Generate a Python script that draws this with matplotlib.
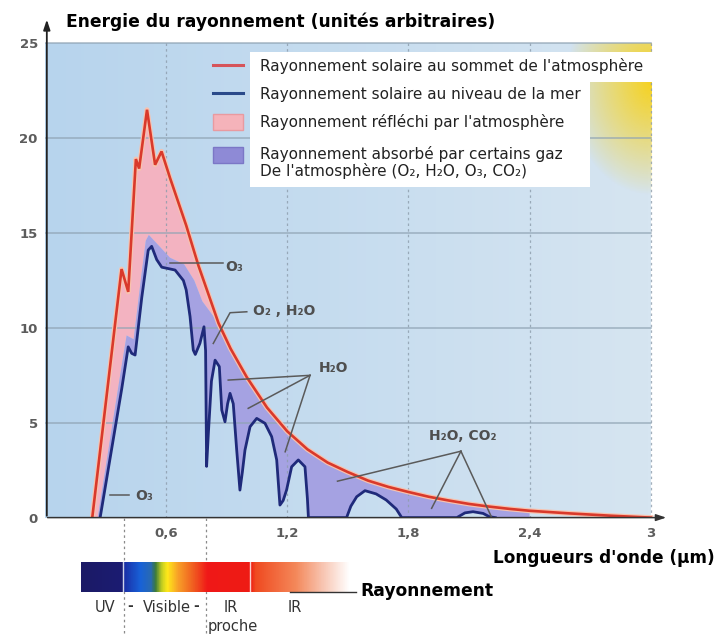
import numpy as np
import matplotlib.pyplot as plt
from matplotlib.colors import LinearSegmentedColormap, to_rgb
from matplotlib.patches import Rectangle

# solar radiation at top of atmosphere (red curve)
red_x = [0.235, 0.38, 0.413, 0.451, 0.467, 0.506, 0.546, 0.578, 0.62, 0.70, 0.76,
         0.86, 0.92, 1.0, 1.1, 1.2, 1.3, 1.4, 1.5, 1.6, 1.7, 1.8, 1.9, 2.0,
         2.1, 2.2, 2.3, 2.4, 2.6, 2.8, 3.0]
red_y = [0.0, 13.1, 11.9, 18.9, 18.4, 21.5, 18.6, 19.3, 17.9, 15.4, 13.3,
         10.25, 8.9, 7.4, 5.8, 4.55, 3.6, 2.9, 2.4, 1.95, 1.62, 1.35, 1.1, 0.9,
         0.72, 0.58, 0.46, 0.36, 0.22, 0.1, 0.0]

# solar radiation at sea level (blue curve)
sea_x = [0.274, 0.381, 0.413, 0.43, 0.447, 0.48, 0.512, 0.529, 0.554, 0.579, 0.645,
         0.686, 0.70, 0.719, 0.735, 0.745, 0.768, 0.788, 0.796, 0.801, 0.81, 0.825,
         0.843, 0.864, 0.876, 0.892, 0.905, 0.917, 0.933, 0.95, 0.966, 0.978, 0.991,
         1.016, 1.049, 1.09, 1.123, 1.148, 1.164, 1.18, 1.197, 1.222, 1.255, 1.288,
         1.30, 1.305, 1.494, 1.515, 1.544, 1.585, 1.64, 1.69, 1.74, 1.767, 2.04,
         2.08, 2.12, 2.17, 2.20, 2.23]
sea_y = [0.0, 6.8, 9.0, 8.66, 8.57, 11.6, 14.1, 14.3, 13.6, 13.2, 13.05,
         12.5, 12.0, 10.6, 8.83, 8.6, 9.19, 10.06, 8.8, 2.7, 4.5, 7.2,
         8.3, 7.96, 5.67, 5.05, 6.0, 6.55, 6.0, 3.56, 1.45, 2.4, 3.56,
         4.79, 5.23, 4.97, 4.27, 3.04, 0.66, 0.9, 1.46, 2.68, 3.04, 2.68,
         1.0, 0.0, 0.0, 0.6, 1.1, 1.42, 1.25, 0.93, 0.45, 0.0, 0.0,
         0.25, 0.31, 0.22, 0.05, 0.0]

# upper edge of the absorbed band, until it meets the red curve
abs_x = [0.262, 0.37, 0.405, 0.44, 0.475, 0.50, 0.515, 0.55, 0.62, 0.69, 0.74, 0.78, 0.86]
abs_y = [0.0, 7.3, 9.6, 9.4, 12.5, 14.6, 14.9, 14.5, 13.7, 13.35, 12.5, 11.4, 10.25]

yticks = [0, 5, 10, 15, 20, 25]
xticks = [0.6, 1.2, 1.8, 2.4, 3.0]
xtick_labels = ["0,6", "1,2", "1,8", "2,4", "3"]

legend_labels = ["Rayonnement solaire au sommet de l'atmosphère",
                 "Rayonnement solaire au niveau de la mer",
                 "Rayonnement réfléchi par l'atmosphère",
                 "Rayonnement absorbé par certains gaz\nDe l'atmosphère (O₂, H₂O, O₃, CO₂)"]

RED = '#d9392b'
BLUE = '#1f2a7a'
PINK = '#f3b3c1'
PURPLE = '#a5a2e2'
GRID = '#8fa3b3'

fig = plt.figure(figsize=(7.2, 6.35), dpi=100)
fig.patch.set_facecolor('white')
ax = fig.add_axes([44.8 / 720, 117.4 / 635, 3.1 * 202 / 720, 26.5 * 18.97 / 635])

# light blue background, lighter to the right
gx = np.linspace(0, 1, 200)
c_left = np.array(to_rgb('#b7d4ed'))
c_right = np.array(to_rgb('#d6e5f1'))
bg = c_left[None, None, :] * (1 - gx[None, :, None]) + c_right[None, None, :] * gx[None, :, None]
bg = np.repeat(bg, 40, axis=0)
ax.imshow(bg, extent=[0, 3, 0, 25], aspect='auto', origin='lower', zorder=0)

# yellow glow in the top right corner
mx, my = np.meshgrid(np.linspace(2.4, 3.0, 120), np.linspace(13, 25, 120))
d = np.sqrt(((3.0 - mx) / 0.42) ** 2 + ((23.0 - my) / 6.0) ** 2)
glow = np.zeros((120, 120, 4))
glow[..., :3] = to_rgb('#f6d21e')
glow[..., 3] = np.clip(1 - d, 0, 1) ** 0.9
ax.imshow(glow, extent=[2.4, 3.0, 13, 25], aspect='auto', origin='lower', zorder=0.5)

# grid
for v in yticks[1:]:
    ax.plot([0, 3], [v, v], color=GRID, lw=1.1, alpha=0.8, zorder=2.5)
for v in xticks:
    ax.plot([v, v], [0, 25], color='#8c9cab', lw=0.9, ls=(0, (2, 2.5)), alpha=0.8, zorder=2.5)

# reflected part (pink) between red curve and absorbed band
k = red_x.index(0.86) + 1
ax.fill(red_x[:k] + abs_x[::-1], red_y[:k] + abs_y[::-1], color=PINK, lw=0, zorder=2)

# absorbed part (purple) between upper edge and sea level curve
tail = [i for i, x in enumerate(red_x) if 0.86 < x <= 2.4]
up_x = abs_x + [red_x[i] for i in tail] + [2.4]
up_y = abs_y + [red_y[i] for i in tail] + [0.0]
ax.fill(up_x + sea_x[::-1], up_y + sea_y[::-1], color=PURPLE, lw=0, zorder=2)

ax.plot(red_x, red_y, color='#f8c2ae', lw=3.6, solid_joinstyle='round', zorder=3)
ax.plot(red_x, red_y, color=RED, lw=1.9, solid_joinstyle='miter', zorder=3.2)
ax.plot(sea_x, sea_y, color=BLUE, lw=2.0, solid_joinstyle='round', zorder=3.1)

# gas annotations
lk = dict(color='#5a5a5a', lw=1.1, zorder=6)
tk = dict(color='#4f4f4f', fontsize=10, fontweight='bold', va='center', zorder=6)
ax.plot([0.62, 0.88], [13.4, 13.4], **lk)
ax.text(0.895, 13.2, 'O₃', **tk)
ax.plot([0.834, 0.917, 1.0], [9.18, 10.8, 10.85], **lk)
ax.text(1.03, 10.9, 'O₂ , H₂O', **tk)
for px, py in [(0.908, 7.25), (1.007, 5.76), (1.19, 3.47)]:
    ax.plot([px, 1.313], [py, 7.5], **lk)
ax.text(1.355, 7.9, 'H₂O', **tk)
for px, py in [(1.449, 1.92), (1.915, 0.49), (2.21, 0.06)]:
    ax.plot([px, 2.06], [py, 3.5], **lk)
ax.text(1.90, 4.3, 'H₂O, CO₂', **tk)
ax.plot([0.324, 0.415], [1.19, 1.19], **lk)
ax.text(0.447, 1.15, 'O₃', **tk)

# legend box
ax.add_patch(Rectangle((1.016, 17.43), 2.70 - 1.016, 24.54 - 17.43, facecolor='white',
                       edgecolor='none', zorder=4))
ax.add_patch(Rectangle((2.70, 22.96), 0.32, 24.54 - 22.96, facecolor='white',
                       edgecolor='none', zorder=4, clip_on=False))
ax.plot([0.833, 0.981], [23.86, 23.86], color='#d6545a', lw=2.2, zorder=5)
ax.plot([0.833, 0.981], [22.38, 22.38], color='#2a4a8a', lw=2.2, zorder=5)
ax.add_patch(Rectangle((0.833, 20.45), 0.148, 0.8, facecolor='#f5b3ba', edgecolor='#e99aa0',
                       lw=1, zorder=5))
ax.add_patch(Rectangle((0.833, 18.71), 0.148, 0.8, facecolor='#8e8ad6', edgecolor='#7b77c6',
                       lw=1, zorder=5))
for yy, lab in zip([23.8, 22.3, 20.85, 18.72], legend_labels):
    ax.text(1.065, yy, lab, fontsize=11, color='#222222', va='center', zorder=5,
            linespacing=1.15)

# axes arrows
ax.annotate('', xy=(0.01, 26.4), xytext=(0.01, -0.05),
            arrowprops=dict(arrowstyle='-|>,head_length=0.6,head_width=0.2', color='#222222', lw=1.3),
            annotation_clip=False, zorder=7)
ax.annotate('', xy=(3.09, 0), xytext=(0.0, 0),
            arrowprops=dict(arrowstyle='-|>,head_length=0.6,head_width=0.2', color='#333333', lw=1.1),
            annotation_clip=False, zorder=7)

# dashed separators of the spectrum
for v in [0.39, 0.8]:
    ax.plot([v, v], [0, -6.3], color='#8a8a8a', lw=0.9, ls=(0, (2, 2.5)), clip_on=False, zorder=7)

ax.set_xlim(0, 3.1)
ax.set_ylim(0, 26.5)
for s in ax.spines.values():
    s.set_visible(False)
ax.set_yticks(yticks)
ax.set_yticklabels([str(v) for v in yticks], fontweight='bold')
ax.set_xticks(xticks)
ax.set_xticklabels(xtick_labels, fontweight='bold')
ax.tick_params(length=0, labelsize=9.5, labelcolor='#5c5c5c')
ax.tick_params(axis='y', pad=5)
ax.tick_params(axis='x', pad=7)

fig.text(66 / 720, 1 - 21.7 / 635, 'Energie du rayonnement (unités arbitraires)',
         fontsize=12.3, fontweight='bold', va='center')
fig.text(493 / 720, 1 - 558 / 635, "Longueurs d'onde (µm)", fontsize=12.2,
         fontweight='bold', va='center')
fig.text(360 / 720, 1 - 591 / 635, 'Rayonnement', fontsize=12.3, fontweight='bold', va='center')

# spectrum bar
bax = fig.add_axes([81 / 720, 1 - 592 / 635, 269 / 720, 30 / 635])
stops = [(0.0, '#1b1a66'), (0.15, '#1c1c72'), (0.16, '#1a30a8'), (0.22, '#1862d8'),
         (0.26, '#2a6ab0'), (0.275, '#3a7a3a'), (0.30, '#c8d020'), (0.32, '#ffe81a'),
         (0.36, '#f8a028'), (0.42, '#f05a20'), (0.47, '#f01818'), (0.63, '#ee1c14'),
         (0.65, '#f04a20'), (0.80, '#f4885a'), (0.90, '#f8c4b0'), (1.0, '#ffffff')]
cmap = LinearSegmentedColormap.from_list('spectre', stops)
bax.imshow(np.linspace(0, 1, 400)[None, :], cmap=cmap, aspect='auto', extent=[0, 1, 0, 1])
for v in [0.155, 0.63]:
    bax.axvline(v, color='white', lw=1, alpha=0.8)
bax.set_axis_off()
fig.add_artist(plt.Line2D([290 / 720, 356 / 720], [1 - 592 / 635] * 2, color='#333333', lw=1))

bt = dict(fontsize=10.5, color='#333333', va='center', ha='center')
fig.text(105 / 720, 1 - 607 / 635, 'UV', **bt)
fig.text(130 / 720, 1 - 606 / 635, '-', fontsize=10, fontweight='bold', color='#333333',
         va='center', ha='center')
fig.text(167 / 720, 1 - 607 / 635, 'Visible', **bt)
fig.text(196 / 720, 1 - 606 / 635, '-', fontsize=10, fontweight='bold', color='#333333',
         va='center', ha='center')
fig.text(231 / 720, 1 - 607 / 635, 'IR', **bt)
fig.text(233 / 720, 1 - 627 / 635, 'proche', **bt)
fig.text(295 / 720, 1 - 607 / 635, 'IR', **bt)

fig.savefig('out.png', dpi=100)
